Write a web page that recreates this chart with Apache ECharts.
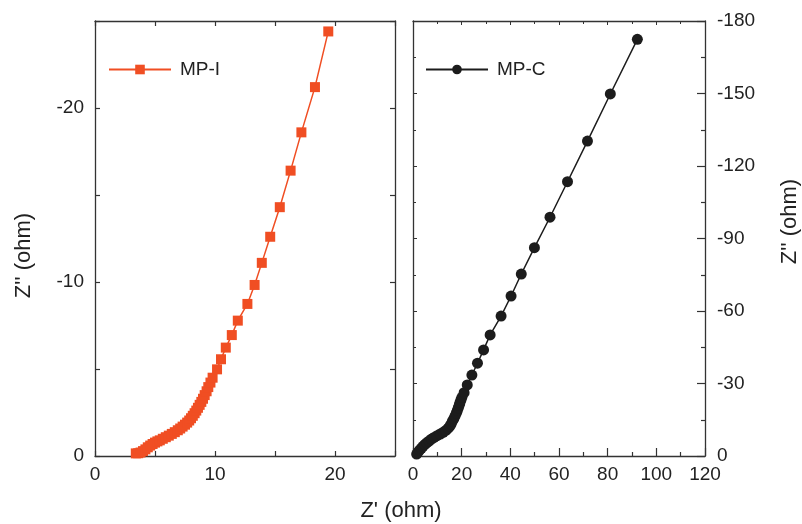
<!DOCTYPE html>
<html lang="en" style="height: 100%">
<head>
  <meta charset="utf-8">
</head>
<body style="height: 100%; margin: 0; background: #fff">
  <div id="container" style="width: 802px; height: 524px"></div>

  <script type="text/javascript" src="https://fastly.jsdelivr.net/npm/echarts@6/dist/echarts.min.js"></script>
  <script type="text/javascript">
// MP-I (left panel): Z' and Z'' in ohm
var mpIZre = [3.4, 3.6, 3.8, 4.0, 4.2, 4.4, 4.6, 4.8, 5.0, 5.2, 5.4, 5.65, 5.9, 6.15, 6.4, 6.65, 6.9, 7.1, 7.3, 7.5,
  7.68, 7.85, 8.0, 8.15, 8.3, 8.44, 8.58, 8.72, 8.86, 9.0, 9.14, 9.3, 9.44, 9.62, 9.8, 10.17, 10.5, 10.9, 11.4, 11.9,
  12.7, 13.3, 13.9, 14.6, 15.4, 16.3, 17.2, 18.33, 19.44];
var mpIZim = [-0.15, -0.16, -0.2, -0.28, -0.38, -0.5, -0.6, -0.69, -0.77, -0.84, -0.9, -0.99, -1.08, -1.17, -1.27, -1.37, -1.48, -1.58, -1.69, -1.8,
  -1.92, -2.04, -2.17, -2.31, -2.46, -2.61, -2.77, -2.94, -3.11, -3.29, -3.5, -3.72, -3.96, -4.22, -4.5, -4.98, -5.56, -6.23, -6.95, -7.78,
  -8.74, -9.83, -11.1, -12.6, -14.3, -16.4, -18.6, -21.2, -24.4];

// MP-C (right panel)
var mpCZre = [1.5, 2.1, 2.7, 3.4, 4.1, 4.9, 5.7, 6.6, 7.6, 8.7, 9.9, 11.2, 12.4, 13.5, 14.5, 15.2, 15.7, 16.2, 16.8, 17.3,
  17.8, 18.2, 18.6, 19.0, 19.3, 19.7, 20.1, 21.0, 22.3, 24.2, 26.5, 29.0, 31.7, 36.2, 40.3, 44.5, 49.9, 56.3, 63.5, 71.7,
  81.1, 92.2];
var mpCZim = [-0.8, -1.6, -2.4, -3.2, -4.0, -4.8, -5.5, -6.2, -7.0, -7.7, -8.4, -9.1, -9.8, -10.6, -11.5, -12.4, -13.3, -14.4, -15.5, -16.6,
  -17.7, -18.8, -19.9, -21.0, -22.1, -23.2, -24.3, -26.2, -29.4, -33.5, -38.4, -43.9, -50.1, -57.9, -66.2, -75.3, -86.2, -98.8, -113.5, -130.3,
  -149.8, -172.4];

var seriesNames = ['MP-I', 'MP-C'];
var yTitle = 'Z\'\' (ohm)';
var xTitle = 'Z\' (ohm)';

function zip(a, b) {
  var out = [];
  for (var i = 0; i < a.length; i++) out.push([a[i], b[i]]);
  return out;
}

var dom = document.getElementById('container');
var myChart = echarts.init(dom, null, { renderer: 'canvas' });

var font = 'Liberation Sans, Arial, sans-serif';
var axisCol = '#333';
var txtCol = '#222';

function frameAxis(extra) {
  var base = {
    axisLine: { show: true, onZero: false, lineStyle: { color: axisCol, width: 1.3 } },
    axisTick: { show: true, inside: true, length: 5, lineStyle: { color: axisCol, width: 1.2 } },
    axisLabel: { show: false },
    splitLine: { show: false }
  };
  return Object.assign(base, extra);
}

function labelStyle(fmt, margin) {
  return { show: true, color: txtCol, fontSize: 19, fontFamily: font, margin: margin, formatter: fmt };
}

var every10 = function (v) { return v % 10 === 0 ? String(v) : ''; };
var titleStyle = { color: txtCol, fontSize: 22, fontFamily: font };

var option = {
  animation: false,
  grid: [
    { left: 95, right: 407, top: 21, bottom: 68 },
    { left: 413, right: 95, top: 21, bottom: 68 }
  ],
  legend: [
    {
      data: [seriesNames[0]], left: 103, top: 55, itemWidth: 62, itemHeight: 12, itemGap: 0,
      textStyle: { color: txtCol, fontSize: 19, fontFamily: font, padding: [0, 0, 0, 4] }
    },
    {
      data: [seriesNames[1]], left: 420, top: 55, itemWidth: 62, itemHeight: 12, itemGap: 0,
      textStyle: { color: txtCol, fontSize: 19, fontFamily: font, padding: [0, 0, 0, 4] }
    }
  ],
  xAxis: [
    frameAxis({ type: 'value', gridIndex: 0, position: 'bottom', min: 0, max: 25, interval: 5,
      axisLabel: labelStyle(every10, 9) }),
    frameAxis({ type: 'value', gridIndex: 0, position: 'top', min: 0, max: 25, interval: 5 }),
    frameAxis({ type: 'value', gridIndex: 1, position: 'bottom', min: 0, max: 120, interval: 20,
      axisTick: { show: true, inside: true, length: 8, lineStyle: { color: axisCol, width: 1.2 } },
      minorTick: { show: true, splitNumber: 2, length: 4, lineStyle: { color: axisCol, width: 1.2 } },
      axisLabel: labelStyle(null, 9) }),
    frameAxis({ type: 'value', gridIndex: 1, position: 'top', min: 0, max: 120, interval: 20,
      axisTick: { show: true, inside: true, length: 4, lineStyle: { color: axisCol, width: 1 } },
      minorTick: { show: true, splitNumber: 2, length: 3, lineStyle: { color: axisCol, width: 1 } } })
  ],
  yAxis: [
    frameAxis({ type: 'value', gridIndex: 0, position: 'left', min: -25, max: 0, interval: 5, inverse: true,
      axisLabel: labelStyle(every10, 11),
      name: yTitle, nameLocation: 'middle', nameRotate: 90, nameGap: 60,
      nameTextStyle: Object.assign({ padding: [0, 34, 0, 0] }, titleStyle) }),
    frameAxis({ type: 'value', gridIndex: 0, position: 'right', min: -25, max: 0, interval: 5, inverse: true }),
    frameAxis({ type: 'value', gridIndex: 1, position: 'right', min: -180, max: 0, interval: 30, inverse: true,
      axisTick: { show: true, inside: true, length: 8, lineStyle: { color: axisCol, width: 1.2 } },
      minorTick: { show: true, splitNumber: 2, length: 4, lineStyle: { color: axisCol, width: 1.2 } },
      axisLabel: labelStyle(null, 12),
      name: yTitle, nameLocation: 'middle', nameRotate: 90, nameGap: 74,
      nameTextStyle: Object.assign({ padding: [0, 0, 0, 34] }, titleStyle) }),
    frameAxis({ type: 'value', gridIndex: 1, position: 'left', min: -180, max: 0, interval: 30, inverse: true,
      axisTick: { show: true, inside: true, length: 4, lineStyle: { color: axisCol, width: 1 } },
      minorTick: { show: true, splitNumber: 2, length: 3, lineStyle: { color: axisCol, width: 1 } } })
  ],
  graphic: [
    {
      type: 'text', left: 'center', top: 500,
      style: { text: xTitle, fill: txtCol, fontSize: 22, fontFamily: font }
    }
  ],
  series: [
    {
      name: seriesNames[0], type: 'line', xAxisIndex: 0, yAxisIndex: 0,
      data: zip(mpIZre, mpIZim),
      symbol: 'rect', symbolSize: 10,
      itemStyle: { color: '#F04E23' },
      lineStyle: { color: '#F04E23', width: 1.5 }
    },
    {
      name: seriesNames[1], type: 'line', xAxisIndex: 2, yAxisIndex: 2,
      data: zip(mpCZre, mpCZim),
      symbol: 'circle', symbolSize: 11,
      itemStyle: { color: '#1c1c1c' },
      lineStyle: { color: '#1c1c1c', width: 1.5 }
    }
  ]
};

myChart.setOption(option);
window.addEventListener('resize', myChart.resize);
  </script>
</body>
</html>
